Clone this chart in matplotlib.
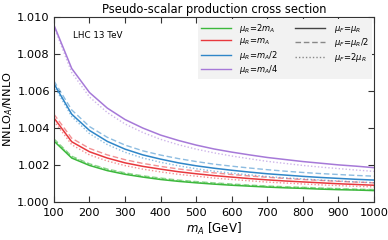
import numpy as np
import matplotlib
matplotlib.use('Agg')
import matplotlib.pyplot as plt
from matplotlib.lines import Line2D

# masses [GeV]
mA = [100, 150, 200, 250, 300, 350, 400, 450, 500, 550, 600, 650, 700, 750, 800, 850, 900, 950, 1000]

# (NNLO_A/NNLO - 1) x 1e3
# mu_R = 2 m_A
g_c = [3.30, 2.38, 1.98, 1.70, 1.50, 1.35, 1.22, 1.12, 1.04, 0.97, 0.91, 0.86, 0.81, 0.77, 0.74, 0.70, 0.67, 0.65, 0.62]
g_h = [3.42, 2.48, 2.07, 1.79, 1.58, 1.42, 1.30, 1.19, 1.11, 1.04, 0.98, 0.92, 0.87, 0.83, 0.80, 0.76, 0.73, 0.70, 0.68]
g_d = [3.36, 2.44, 2.03, 1.75, 1.54, 1.38, 1.26, 1.15, 1.07, 1.00, 0.94, 0.89, 0.84, 0.80, 0.77, 0.73, 0.70, 0.67, 0.65]
# mu_R = m_A
r_c = [4.55, 3.26, 2.72, 2.38, 2.12, 1.93, 1.78, 1.64, 1.53, 1.43, 1.35, 1.27, 1.20, 1.14, 1.09, 1.04, 0.99, 0.95, 0.91]
r_h = [4.75, 3.45, 2.90, 2.55, 2.29, 2.09, 1.93, 1.79, 1.68, 1.58, 1.49, 1.41, 1.34, 1.28, 1.22, 1.17, 1.12, 1.08, 1.04]
r_d = [4.38, 3.10, 2.55, 2.22, 1.97, 1.78, 1.63, 1.50, 1.40, 1.30, 1.22, 1.15, 1.08, 1.03, 0.98, 0.93, 0.89, 0.85, 0.82]
# mu_R = m_A/2
b_c = [6.40, 4.75, 3.87, 3.28, 2.86, 2.55, 2.32, 2.12, 1.96, 1.83, 1.72, 1.62, 1.53, 1.46, 1.39, 1.33, 1.28, 1.23, 1.19]
b_h = [6.55, 4.98, 4.08, 3.50, 3.08, 2.77, 2.54, 2.35, 2.19, 2.05, 1.94, 1.84, 1.75, 1.67, 1.60, 1.54, 1.49, 1.44, 1.40]
b_d = [6.28, 4.62, 3.70, 3.11, 2.69, 2.38, 2.15, 1.96, 1.80, 1.67, 1.56, 1.47, 1.38, 1.31, 1.25, 1.19, 1.14, 1.09, 1.05]
# mu_R = m_A/4
p_c = [9.57, 7.22, 5.92, 5.08, 4.46, 4.00, 3.62, 3.33, 3.08, 2.87, 2.70, 2.55, 2.41, 2.30, 2.19, 2.10, 2.01, 1.94, 1.86]
p_d = [9.48, 7.00, 5.68, 4.84, 4.22, 3.76, 3.39, 3.10, 2.86, 2.66, 2.49, 2.34, 2.20, 2.09, 1.98, 1.89, 1.81, 1.73, 1.66]

green, red, blue, purple = '#3cb83c', '#e8383d', '#2f86c8', '#a679d8'

def r(v):
    return 1 + np.array(v) * 1e-3

fig = plt.figure(figsize=(3.88, 2.4), dpi=100)
ax = fig.add_axes([0.139, 0.158, 0.825, 0.771])

for col, c, h, d in [(green, g_c, g_h, g_d), (red, r_c, r_h, r_d), (blue, b_c, b_h, b_d)]:
    ax.plot(mA, r(h), color=col, lw=1.0, ls=(0, (4, 2)), alpha=0.55)
    ax.plot(mA, r(d), color=col, lw=1.0, ls=(0, (1, 1.5)), alpha=0.55)
    ax.plot(mA, r(c), color=col, lw=1.1)
ax.plot(mA, r(p_d), color=purple, lw=1.0, ls=(0, (1, 1.5)), alpha=0.55)
ax.plot(mA, r(p_c), color=purple, lw=1.1)

ax.set_xlim(100, 1000)
ax.set_ylim(1.0, 1.010)
ax.set_xticks(np.arange(100, 1001, 100))
ax.set_yticks(np.arange(1.0, 1.0101, 0.002))
ax.yaxis.set_major_formatter(matplotlib.ticker.FormatStrFormatter('%.3f'))
ax.tick_params(direction='in', top=True, right=True, length=4, labelsize=8.2, color='#333333')
ax.tick_params(axis='x', pad=4)
ax.tick_params(axis='y', pad=3)
for s in ax.spines.values():
    s.set_color('#333333')

ax.set_title('Pseudo-scalar production cross section', fontsize=8.3, pad=3)
ax.set_xlabel('$m_A$ [GeV]', fontsize=8.5, labelpad=2)
ax.set_ylabel('NNLO$_A$/NNLO', fontsize=8.2, labelpad=1.5)
ax.text(0.06, 0.885, 'LHC 13 TeV', transform=ax.transAxes, fontsize=6.3)

handles = [Line2D([], [], color=green, lw=1), Line2D([], [], color=red, lw=1),
           Line2D([], [], color=blue, lw=1), Line2D([], [], color=purple, lw=1),
           Line2D([], [], color='#444444', lw=1), Line2D([], [], color='#888888', lw=1, ls=(0, (4, 2))),
           Line2D([], [], color='#888888', lw=1, ls=(0, (1, 1.5))), Line2D([], [], alpha=0)]
labels = ['$\\mu_R\\!=\\!2m_A$', '$\\mu_R\\!=\\!m_A$', '$\\mu_R\\!=\\!m_A/2$', '$\\mu_R\\!=\\!m_A/4$',
          '$\\mu_F\\!=\\!\\mu_R$', '$\\mu_F\\!=\\!\\mu_R/2$', '$\\mu_F\\!=\\!2\\mu_R$', '']
leg = ax.legend(handles, labels, ncol=2, loc='upper right', fontsize=6, frameon=True,
                facecolor='#f2f2f2', edgecolor='none', framealpha=1, fancybox=False,
                handlelength=3.6, handletextpad=1.0, columnspacing=2.0, labelspacing=0.15,
                borderpad=0.4, borderaxespad=0.2)

fig.savefig('out.png', dpi=100)
